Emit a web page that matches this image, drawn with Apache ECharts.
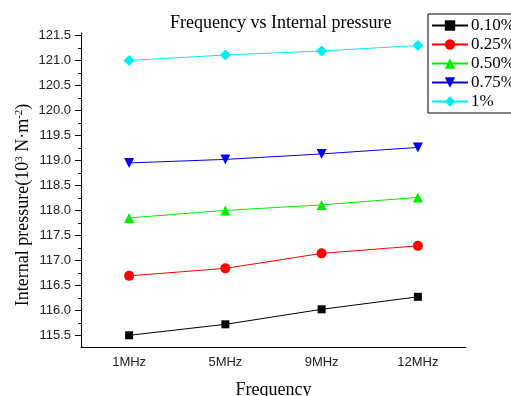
<!DOCTYPE html>
<html>
<head>
<meta charset="utf-8">
<script src="https://cdn.jsdelivr.net/npm/echarts@6/dist/echarts.min.js"></script>
<style>
  html, body { margin: 0; padding: 0; background: #fff; }
  #chart { width: 511px; height: 396px; }
</style>
</head>
<body>
<div id="chart"></div>
<script>
// 数据
var categories = ['1MHz', '5MHz', '9MHz', '12MHz'];
var seriesNames = ['0.10%', '0.25%', '0.50%', '0.75%', '1%'];
var s010 = [115.50, 115.72, 116.02, 116.27];
var s025 = [116.69, 116.84, 117.14, 117.29];
var s050 = [117.85, 118.00, 118.11, 118.26];
var s075 = [118.95, 119.02, 119.13, 119.26];
var s100 = [121.00, 121.11, 121.19, 121.30];
var yTicks = [115.5, 116.0, 116.5, 117.0, 117.5, 118.0, 118.5, 119.0, 119.5, 120.0, 120.5, 121.0, 121.5];
var yMinorTicks = [115.75, 116.25, 116.75, 117.25, 117.75, 118.25, 118.75, 119.25, 119.75, 120.25, 120.75, 121.25];

var colors = ['#000000', '#ff0000', '#00ee00', '#0000ee', '#00eeee'];
var symbols = ['rect', 'circle', 'triangle', 'path://M0,0 L10,0 L5,9 Z', 'diamond'];
var symbolSizes = [8, 10, 10, 10, 11];
var allData = [s010, s025, s050, s075, s100];

var serif = '"Liberation Serif", "DejaVu Serif", serif';
var sans = '"Liberation Sans", Arial, sans-serif';

var chart = echarts.init(document.getElementById('chart'));

var yBase = { min: 115.266, max: 121.55, scale: true, splitLine: { show: false } };

chart.setOption({
    animation: false,
    title: {
        text: 'Frequency vs Internal pressure',
        left: 165, top: 9,
        textStyle: { fontFamily: serif, fontSize: 18, fontWeight: 'normal', color: '#000' }
    },
    legend: {
        orient: 'vertical',
        left: 428, top: 14,
        itemWidth: 36, itemHeight: 13, itemGap: 2,
        padding: [3, 40, 3, 3],
        borderColor: '#000', borderWidth: 1,
        textStyle: { fontFamily: serif, fontSize: 17, color: '#000', padding: [0, 0, 0, -2] },
        data: seriesNames
    },
    grid: { left: 81, right: 45, top: 33, bottom: 49, containLabel: false, outerBoundsMode: 'none' },
    xAxis: [{
        type: 'category',
        data: categories,
        boundaryGap: true,
        axisLine: { lineStyle: { color: '#000', width: 1 } },
        axisTick: { alignWithLabel: true, length: 6, lineStyle: { color: '#000' } },
        axisLabel: { fontFamily: sans, fontSize: 13, color: '#222', margin: 9 },
        name: 'Frequency',
        nameLocation: 'middle',
        nameGap: 34,
        nameTextStyle: { fontFamily: serif, fontSize: 18, color: '#000' }
    }, {
        type: 'category',
        data: categories,
        position: 'bottom',
        boundaryGap: true,
        axisLine: { show: false },
        axisTick: { length: 3, lineStyle: { color: '#000' } },
        axisLabel: { show: false }
    }],
    yAxis: [Object.assign({}, yBase, {
        type: 'value',
        position: 'left',
        axisLine: { show: true, lineStyle: { color: '#000', width: 1 } },
        axisTick: { show: true, length: 6, customValues: yTicks, lineStyle: { color: '#000' } },
        axisLabel: {
            customValues: yTicks,
            fontFamily: sans, fontSize: 13, color: '#222', margin: 10,
            formatter: function (v) { return v.toFixed(1); }
        },
        name: 'Internal pressure(10{sup|3} N·m{sup|-2})',
        nameLocation: 'middle',
        nameGap: 48,
        nameMoveOverlap: false,
        nameRotate: 90,
        nameTextStyle: {
            fontFamily: serif, fontSize: 18, color: '#000',
            padding: [0, 30, 0, 0],
            rich: { sup: { fontFamily: serif, fontSize: 11, verticalAlign: 'top', padding: [0, 0, 8, 0] } }
        }
    }), Object.assign({}, yBase, {
        type: 'value',
        position: 'left',
        offset: 0,
        axisLine: { show: false },
        axisTick: { show: true, length: 3, customValues: yMinorTicks, lineStyle: { color: '#000' } },
        axisLabel: { show: false }
    })],
    series: seriesNames.map(function (name, i) {
        return {
            name: name,
            type: 'line',
            xAxisIndex: 0,
            yAxisIndex: 0,
            data: allData[i],
            symbol: symbols[i],
            symbolSize: symbolSizes[i],
            showAllSymbol: true,
            lineStyle: { color: colors[i], width: 1 },
            itemStyle: { color: colors[i], borderWidth: 0 }
        };
    })
});
</script>
</body>
</html>
